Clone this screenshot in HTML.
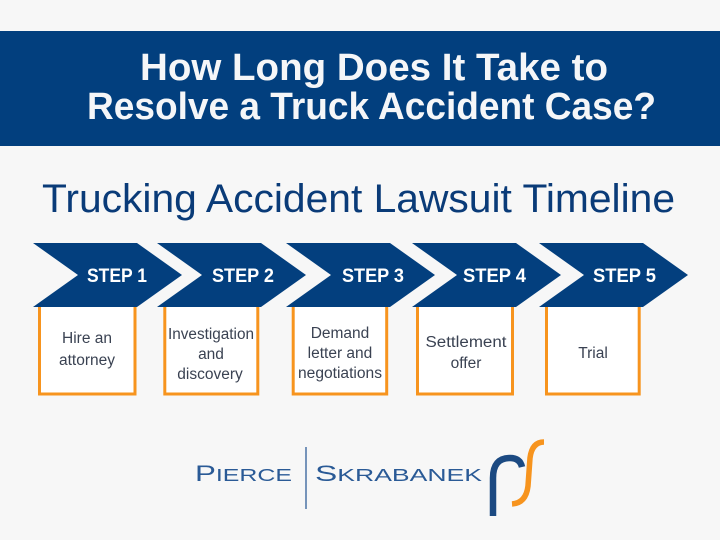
<!DOCTYPE html>
<html>
<head>
<meta charset="utf-8">
<style>
  html, body { margin:0; padding:0; background:#f7f7f7; }
  body { width:720px; height:540px; overflow:hidden; }
  svg { display:block; }
  .t { font-family:"Liberation Sans", sans-serif; }
</style>
</head>
<body>
<svg width="720" height="540" viewBox="0 0 720 540" xmlns="http://www.w3.org/2000/svg">
  <rect x="0" y="0" width="720" height="540" fill="#f7f7f7"/>
  <!-- Banner -->
  <rect x="0" y="31" width="720" height="115" fill="#023f7e"/>
  <text class="t" x="140" y="80" font-size="38" font-weight="bold" fill="#f5f6f8" textLength="468" lengthAdjust="spacingAndGlyphs">How Long Does It Take to</text>
  <text class="t" x="87" y="119" font-size="38" font-weight="bold" fill="#f5f6f8" textLength="569" lengthAdjust="spacingAndGlyphs">Resolve a Truck Accident Case?</text>

  <!-- Subtitle -->
  <text class="t" x="42" y="212" font-size="40" fill="#0a3b78" textLength="633" lengthAdjust="spacingAndGlyphs">Trucking Accident Lawsuit Timeline</text>

  <!-- Boxes -->
  <g fill="#ffffff">
    <rect x="39.5" y="306" width="95.5" height="88"/>
    <rect x="164.8" y="306" width="93" height="88"/>
    <rect x="293.2" y="306" width="93.5" height="88"/>
    <rect x="417.5" y="306" width="95" height="88"/>
    <rect x="546.5" y="306" width="92.7" height="88"/>
  </g>
  <g fill="none" stroke="#f7941e" stroke-width="3">
    <path d="M39.5,306 V394 H135 V306"/>
    <path d="M164.8,306 V394 H257.8 V306"/>
    <path d="M293.2,306 V394 H386.7 V306"/>
    <path d="M417.5,306 V394 H512.5 V306"/>
    <path d="M546.5,306 V394 H639.2 V306"/>
  </g>

  <!-- Chevrons -->
  <g fill="#033f7e">
    <polygon points="33,243 137,243 182,275 137,307 33,307 78,275"/>
    <polygon points="157,243 261,243 306,275 261,307 157,307 202,275"/>
    <polygon points="286,243 390,243 435,275 390,307 286,307 331,275"/>
    <polygon points="412,243 516,243 561,275 516,307 412,307 457,275"/>
    <polygon points="539,243 643,243 688,275 643,307 539,307 584,275"/>
  </g>

  <!-- Step labels -->
  <g class="t" font-size="19" font-weight="bold" fill="#ffffff">
    <text x="87" y="282" textLength="60" lengthAdjust="spacingAndGlyphs">STEP 1</text>
    <text x="212" y="282" textLength="62" lengthAdjust="spacingAndGlyphs">STEP 2</text>
    <text x="342" y="282" textLength="62" lengthAdjust="spacingAndGlyphs">STEP 3</text>
    <text x="463" y="282" textLength="63" lengthAdjust="spacingAndGlyphs">STEP 4</text>
    <text x="593" y="282" textLength="63" lengthAdjust="spacingAndGlyphs">STEP 5</text>
  </g>

  <!-- Box text -->
  <g class="t" font-size="15.5" fill="#3a4252" text-anchor="middle">
    <text x="87" y="343">Hire an</text>
    <text x="87" y="365">attorney</text>

    <text x="211" y="339" textLength="86" lengthAdjust="spacingAndGlyphs">Investigation</text>
    <text x="211" y="359">and</text>
    <text x="210" y="379">discovery</text>

    <text x="340" y="338">Demand</text>
    <text x="340" y="358">letter and</text>
    <text x="340" y="378" textLength="84" lengthAdjust="spacingAndGlyphs">negotiations</text>

    <text x="466" y="347" textLength="81" lengthAdjust="spacingAndGlyphs">Settlement</text>
    <text x="466" y="368">offer</text>

    <text x="593" y="358">Trial</text>
  </g>

  <!-- Logo -->
  <g class="t" fill="#2a5a96">
    <text x="195" y="481" textLength="97" lengthAdjust="spacingAndGlyphs"><tspan font-size="22">P</tspan><tspan font-size="17.5">IERCE</tspan></text>
    <text x="315" y="481" textLength="167" lengthAdjust="spacingAndGlyphs"><tspan font-size="22">S</tspan><tspan font-size="17.5">KRABANEK</tspan></text>
  </g>
  <line x1="306" y1="447" x2="306" y2="509" stroke="#4a72a6" stroke-width="1.5"/>
  <path d="M493,516 L493,478 Q493,458 510,458 Q520,458 522,467" fill="none" stroke="#1c4a82" stroke-width="6.5"/>
  <path d="M544,442 Q532,442 530,458 L528,486 Q526,503 512,504" fill="none" stroke="#f7941e" stroke-width="5.5"/>
</svg>
</body>
</html>
